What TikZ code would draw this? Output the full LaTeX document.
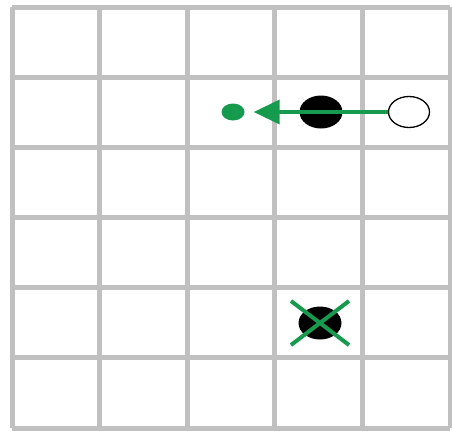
\documentclass[tikz,border=0pt]{standalone}
\usetikzlibrary{shapes.geometric,shapes.misc,arrows.meta}
\definecolor{gridgray}{RGB}{192,192,192}
\definecolor{mygreen}{RGB}{22,155,78}
\tikzset{
  gridline/.style={draw=gridgray,line width=5pt},
  ballmark/.style={ellipse,fill=black,minimum width=43pt,minimum height=33pt,inner sep=0pt},
  holemark/.style={ellipse,draw=black,line width=1.3pt,fill=white,minimum width=41pt,minimum height=31pt,inner sep=0pt},
  targetdot/.style={ellipse,fill=mygreen,minimum width=23pt,minimum height=17pt,inner sep=0pt},
  movearrow/.style={draw=mygreen,line width=4pt,-{Triangle[length=26pt,width=24pt]}},
  crossmark/.style={cross out,draw=mygreen,line width=4pt,minimum width=54pt,minimum height=40pt,inner sep=0pt}
}
\begin{document}
\begin{tikzpicture}[x=1pt,y=-1pt]
\useasboundingbox (0,0) rectangle (452,432);
\fill[white] (0,0) rectangle (452,432);
% grid
\foreach \i in {0,...,5}{
  \draw[gridline] ({12+\i*87.6},7) -- ({12+\i*87.6},428);
}
\foreach \j in {0,...,6}{
  \draw[gridline] (12,{7+\j*70.17}) -- (450,{7+\j*70.17});
}
% top row pieces
\node[targetdot] (dot) at (233,112) {};
\node[ballmark] (ball) at (321,112) {};
\node[holemark] (hole) at (409,112) {};
\draw[movearrow,shorten >=9pt] (hole.west) -- (dot.east);
% captured piece
\node[ballmark] (ball2) at (320,323) {};
\node[crossmark] (cross) at (320,323) {};
\end{tikzpicture}
\end{document}
